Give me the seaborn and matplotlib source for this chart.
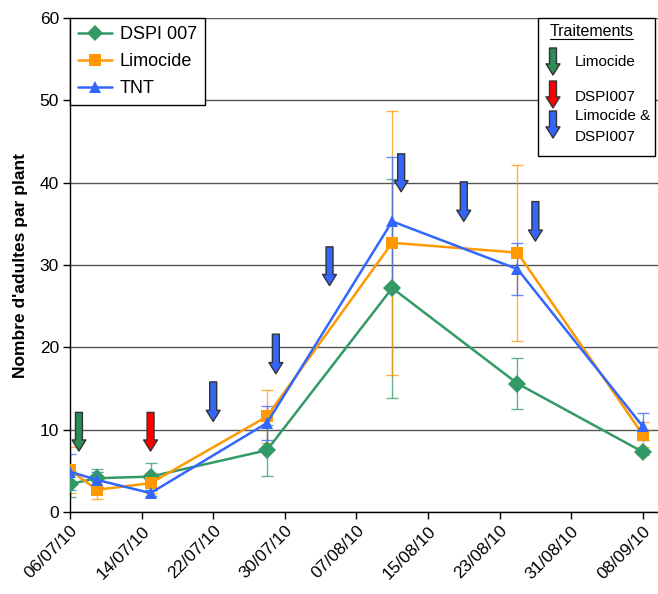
import numpy as np
import pandas as pd
import seaborn as sns
import matplotlib.pyplot as plt
import matplotlib.dates as mdates
from matplotlib.patches import FancyArrowPatch, Rectangle
from matplotlib.lines import Line2D

# sampling dates and mean counts (adults per plant)
dates = ["2010-07-06", "2010-07-09", "2010-07-15", "2010-07-28",
         "2010-08-11", "2010-08-25", "2010-09-08"]
dspi = [3.4, 4.1, 4.3, 7.5, 27.2, 15.6, 7.3]
dspi_err = [1.6, 1.1, 1.6, 3.1, 13.3, 3.1, 0.4]
limo = [5.1, 2.7, 3.5, 11.6, 32.7, 31.5, 9.4]
limo_err = [2.8, 1.1, 1.2, 3.2, 16.0, 10.7, 1.5]
tnt = [4.9, 3.9, 2.3, 10.8, 35.3, 29.5, 10.4]
tnt_err = [2.2, 0.9, 0.4, 2.1, 7.8, 3.2, 1.6]

series_names = ["DSPI 007", "Limocide", "TNT"]
series_colors = ["#339966", "#ff9900", "#3366ff"]
series_markers = ["D", "s", "^"]

# treatment arrows
arrow_dates = ["2010-07-07", "2010-07-15", "2010-07-22", "2010-07-29",
               "2010-08-04", "2010-08-12", "2010-08-19", "2010-08-27"]
arrow_top = [12.1, 12.1, 15.8, 21.6, 32.2, 43.5, 40.1, 37.7]
arrow_tip = [7.4, 7.4, 11.0, 16.8, 27.5, 38.9, 35.3, 32.9]
arrow_kind = ["Limocide", "DSPI007", "both", "both", "both", "both", "both", "both"]
arrow_colors = {"Limocide": "#2e8b57", "DSPI007": "#ff0000", "both": "#3366ff"}

tick_dates = pd.date_range("2010-07-06", "2010-09-08", freq="8D")

df = pd.DataFrame({
    "date": pd.to_datetime(dates * 3),
    "value": dspi + limo + tnt,
    "err": dspi_err + limo_err + tnt_err,
    "serie": np.repeat(series_names, len(dates)),
})

sns.set_theme(style="white")
plt.rcParams["font.family"] = ["Liberation Sans", "DejaVu Sans"]
plt.rcParams["text.color"] = "black"
plt.rcParams["axes.labelcolor"] = "black"
plt.rcParams["xtick.color"] = "black"
plt.rcParams["ytick.color"] = "black"

W, H = 658, 594
fig = plt.figure(figsize=(W / 100, H / 100), dpi=100)
ax = fig.add_axes([70 / W, 1 - 512 / H, 1 - 70 / W, (512 - 18) / H])

# error bars first, lines on top
for name, col in zip(series_names, series_colors):
    sub = df[df.serie == name]
    ax.errorbar(sub.date, sub.value, yerr=sub.err, fmt="none", ecolor=col,
                elinewidth=1, capsize=4, capthick=1, alpha=0.75, zorder=2)

sns.lineplot(data=df, x="date", y="value", hue="serie", style="serie",
             hue_order=series_names, style_order=series_names,
             palette=dict(zip(series_names, series_colors)),
             markers=dict(zip(series_names, series_markers)), dashes=False,
             markersize=9, markeredgewidth=0, linewidth=1.8, ax=ax,
             legend=False, zorder=3)

for d, top, tip, kind in zip(arrow_dates, arrow_top, arrow_tip, arrow_kind):
    x = mdates.date2num(pd.Timestamp(d))
    ax.add_patch(FancyArrowPatch((x, top), (x, tip),
                                 arrowstyle="simple,head_width=1.0,head_length=0.8,tail_width=0.5",
                                 mutation_scale=10, shrinkA=0, shrinkB=0,
                                 facecolor=arrow_colors[kind], edgecolor="#333333",
                                 linewidth=1, zorder=5))

x0 = mdates.date2num(pd.Timestamp("2010-07-06"))
ax.set_xlim(x0, x0 + 65.7)
ax.set_ylim(0, 60)
ax.set_yticks(np.arange(0, 61, 10))
ax.set_xticks(tick_dates)
ax.xaxis.set_major_formatter(mdates.DateFormatter("%d/%m/%y"))
ax.grid(axis="y", color="#555555", linewidth=1)
ax.grid(axis="x", visible=False)
ax.tick_params(axis="both", direction="out", length=5, width=1, color="black",
               labelcolor="black", labelsize=12.5, bottom=True, left=True, pad=3)
for lab in ax.get_xticklabels():
    lab.set_rotation(45)
    lab.set_ha("right")
    lab.set_rotation_mode("anchor")
for s in ["top", "right"]:
    ax.spines[s].set_visible(False)
for s in ["left", "bottom"]:
    ax.spines[s].set_color("black")
    ax.spines[s].set_linewidth(1)
ax.set_xlabel("")
ax.set_ylabel("Nombre d'adultes par plant", fontsize=12.5, fontweight="bold", color="black")
ax.yaxis.set_label_coords(-0.072, 0.5)

# series legend
handles = [Line2D([], [], color=c, marker=m, markersize=8, markeredgewidth=0, linewidth=1.8)
           for c, m in zip(series_colors, series_markers)]
leg = ax.legend(handles, series_names, loc="upper left", bbox_to_anchor=(0, 1),
                borderaxespad=0, fancybox=False, framealpha=1, edgecolor="black",
                fontsize=13, handlelength=1.9, handletextpad=0.4, labelspacing=0.55,
                borderpad=0.45)
leg.get_frame().set_linewidth(1)
leg.set_zorder(6)

# treatments legend, drawn by hand in pixel space
def fx(px):
    return px / W

def fy(py):
    return 1 - py / H

fig.add_artist(Rectangle((fx(538), fy(156)), fx(655) - fx(538), fy(18) - fy(156),
                         transform=fig.transFigure, facecolor="white",
                         edgecolor="black", linewidth=1, zorder=7))
fig.text(fx(550), fy(31), "Traitements", fontsize=11.5, va="center", ha="left", zorder=8)
fig.add_artist(Line2D([fx(550), fx(633)], [fy(39), fy(39)], transform=fig.transFigure,
                      color="black", linewidth=0.8, zorder=8))
leg2 = [("Limocide", [("Limocide", 62)], 48, 75),
        ("DSPI007", [("DSPI007", 97)], 81, 108),
        ("both", [("Limocide &", 116), ("DSPI007", 137)], 111, 138)]
for kind, labels, top, tip in leg2:
    fig.add_artist(FancyArrowPatch((fx(553), fy(top)), (fx(553), fy(tip)),
                                   transform=fig.transFigure,
                                   arrowstyle="simple,head_width=1.0,head_length=0.8,tail_width=0.5",
                                   mutation_scale=10, shrinkA=0, shrinkB=0,
                                   facecolor=arrow_colors[kind], edgecolor="#333333",
                                   linewidth=1, zorder=8))
    for text, py in labels:
        fig.text(fx(575), fy(py), text, fontsize=11, va="center", ha="left", zorder=8)

fig.savefig("out.png", dpi=100)
